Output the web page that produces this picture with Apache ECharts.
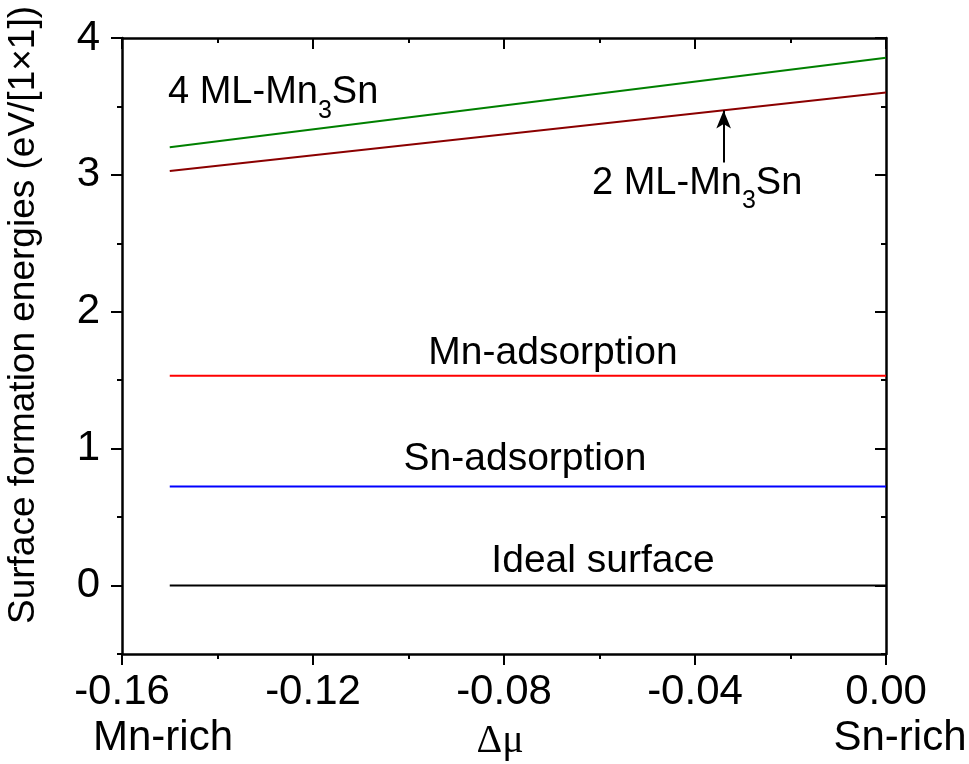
<!DOCTYPE html>
<html>
<head>
<meta charset="utf-8">
<script src="https://cdn.jsdelivr.net/npm/echarts@6/dist/echarts.min.js"></script>
<style>
html,body{margin:0;padding:0;background:#fff;}
#c{width:969px;height:764px;}
</style>
</head>
<body>
<div id="c"></div>
<script>
// x positions (Δμ) of each line's end points
const xValues = [-0.15, 0.00];
const idealSurface = [0, 0];
const snAdsorption = [0.723, 0.723];
const mnAdsorption = [1.533, 1.533];
const ml2Mn3Sn = [3.029, 3.601];
const ml4Mn3Sn = [3.202, 3.856];
const yTicks = [0, 1, 2, 3, 4];
const arrowX = -0.034;
const arrowFrom = 3.09;
const arrowTo = 3.47;

const FONT = '"Liberation Sans", Arial, sans-serif';
const chart = echarts.init(document.getElementById('c'), null, {renderer: 'canvas'});

function pairs(ys) { return xValues.map((x, i) => [x, ys[i]]); }

const tickStyle = {color: '#000', width: 2};
const baseX = {
  type: 'value', min: -0.16, max: 0, interval: 0.04,
  splitLine: {show: false},
  axisLine: {show: true, onZero: false, lineStyle: {color: '#000', width: 2.5}},
  minorTick: {show: true, splitNumber: 2, length: 5, lineStyle: tickStyle},
  axisTick: {show: true, length: 11, lineStyle: tickStyle}
};
const yRange = {type: 'value', min: -0.5, max: 4, splitLine: {show: false}};

const option = {
  animation: false,
  backgroundColor: '#fff',
  grid: {left: 122, right: 83, top: 38, bottom: 110, containLabel: false, outerBoundsMode: 'none'},
  xAxis: [
    Object.assign({}, baseX, {
      position: 'bottom',
      axisLabel: {
        show: true, color: '#000', fontFamily: FONT, fontSize: 42, margin: 17,
        formatter: v => v.toFixed(2)
      }
    }),
    Object.assign({}, baseX, {
      position: 'top',
      axisTick: {show: true, inside: true, length: 11, lineStyle: tickStyle},
      axisLabel: {show: false}
    })
  ],
  yAxis: [
    Object.assign({}, yRange, {
      position: 'left',
      axisLine: {show: true, onZero: false, lineStyle: {color: '#000', width: 2.5}},
      axisTick: {show: true, length: 11, customValues: yTicks, lineStyle: tickStyle},
      axisLabel: {show: true, customValues: yTicks, color: '#000', fontFamily: FONT, fontSize: 42, margin: 22}
    }),
    Object.assign({}, yRange, {
      position: 'left', interval: 0.5,
      axisLine: {show: false, onZero: false},
      axisTick: {show: true, length: 5, lineStyle: tickStyle},
      axisLabel: {show: false}
    }),
    Object.assign({}, yRange, {
      position: 'right',
      axisLine: {show: true, onZero: false, lineStyle: {color: '#000', width: 2.5}},
      axisTick: {show: true, inside: true, length: 11, customValues: yTicks, lineStyle: tickStyle},
      axisLabel: {show: false}
    }),
    Object.assign({}, yRange, {
      position: 'right', interval: 0.5,
      axisLine: {show: false, onZero: false},
      axisTick: {show: true, inside: true, length: 5, lineStyle: tickStyle},
      axisLabel: {show: false}
    })
  ],
  series: [
    {name: 'Ideal surface', type: 'line', data: pairs(idealSurface), symbol: 'none',
      lineStyle: {color: '#000000', width: 2}},
    {name: 'Sn-adsorption', type: 'line', data: pairs(snAdsorption), symbol: 'none',
      lineStyle: {color: '#0000ff', width: 2}},
    {name: 'Mn-adsorption', type: 'line', data: pairs(mnAdsorption), symbol: 'none',
      lineStyle: {color: '#ff0000', width: 2}},
    {name: '2 ML-Mn3Sn', type: 'line', data: pairs(ml2Mn3Sn), symbol: 'none',
      lineStyle: {color: '#8b0000', width: 2},
      markLine: {
        silent: true, symbol: ['none', 'arrow'], symbolSize: [11, 18],
        label: {show: false},
        lineStyle: {color: '#000', width: 2, type: 'solid'},
        data: [[{coord: [arrowX, arrowFrom]}, {coord: [arrowX, arrowTo]}]]
      }},
    {name: '4 ML-Mn3Sn', type: 'line', data: pairs(ml4Mn3Sn), symbol: 'none',
      lineStyle: {color: '#008000', width: 2}}
  ]
};

const measureCtx = document.createElement('canvas').getContext('2d');
function textWidth(t, size) {
  measureCtx.font = size + 'px ' + FONT;
  return measureCtx.measureText(t).width;
}
function label(text, x, yMid, size, font, align) {
  return {type: 'text', x: x, y: yMid, silent: true,
    style: {text: text, fontFamily: font || FONT, fontSize: size, fill: '#000', align: align || 'center', verticalAlign: 'middle'}};
}
function subLabel(pre, sub, post, x, yMid) {
  const big = 38, small = 25;
  const w1 = textWidth(pre, big), w2 = textWidth(sub, small);
  return [
    label(pre, x, yMid, big, FONT, 'left'),
    label(sub, x + w1, yMid + 18, small, FONT, 'left'),
    label(post, x + w1 + w2, yMid, big, FONT, 'left')
  ];
}
option.graphic = [].concat(
  subLabel('4 ML-Mn', '3', 'Sn', 168, 93),
  subLabel('2 ML-Mn', '3', 'Sn', 592, 183.5),
  [
    label('Mn-adsorption', 553, 353, 39),
    label('Sn-adsorption', 525, 459, 39),
    label('Ideal surface', 603, 561, 39),
    label('Mn-rich', 163, 738, 42),
    label('Sn-rich', 900, 738, 42),
    label('Δμ', 500, 741, 40, '"Liberation Serif", serif'),
    Object.assign(label('Surface formation energies (eV/[1×1])', 24, 315, 37), {rotation: Math.PI / 2})
  ]
);
chart.setOption(option);
</script>
</body>
</html>
